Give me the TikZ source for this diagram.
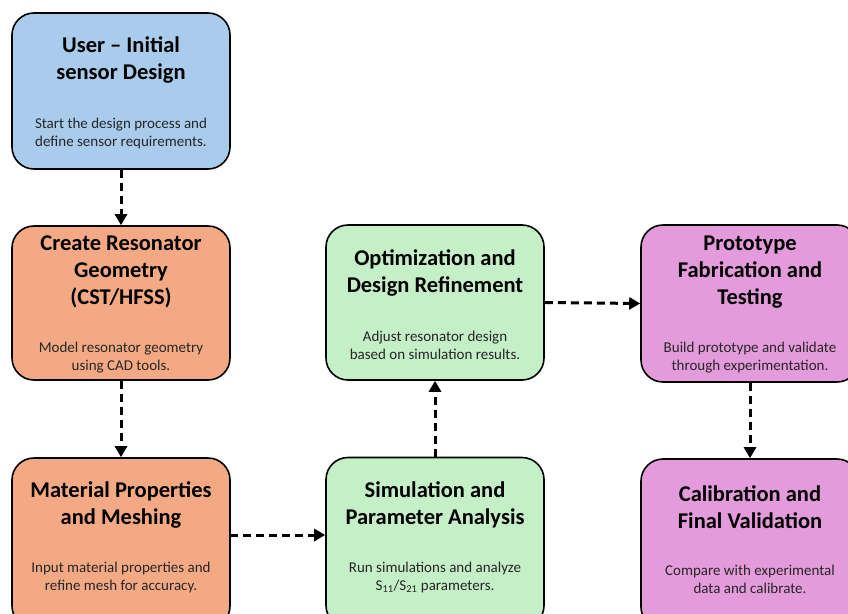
\documentclass[tikz,border=0pt]{standalone}
\usepackage{fontspec}
\setmainfont{Carlito}
\usetikzlibrary{arrows.meta}
\definecolor{cblue}{HTML}{A9CCEC}
\definecolor{corange}{HTML}{F3AA84}
\definecolor{cgreen}{HTML}{C4EFC7}
\definecolor{cpink}{HTML}{E39BDB}
\tikzset{
  flowbox/.style={draw=black, line width=1.6pt, rounded corners=22pt, minimum width=218pt, minimum height=155pt, inner sep=0pt},
  titletext/.style={font=\fontsize{22.5}{27}\selectfont\bfseries, align=center, text=black, inner sep=0pt},
  bodytext/.style={font=\fontsize{15}{18}\selectfont, align=center, text=black!85, inner sep=0pt},
  flowarrow/.style={line width=3pt, dash pattern=on 8pt off 5pt, -{Triangle[length=11pt,width=12pt]}}
}
\begin{document}
\begin{tikzpicture}[x=1pt,y=-1pt]
\path[use as bounding box, clip] (0,0) rectangle (848,613);
\fill[white] (0,0) rectangle (848,613);
% boxes
\node[flowbox, fill=cblue, minimum height=156pt] (b1) at (121,91) {};
\node[flowbox, fill=corange, minimum height=154pt] (b2) at (121,303) {};
\node[flowbox, fill=corange, minimum height=170pt] (b3) at (121,543) {};
\node[flowbox, fill=cgreen] (g1) at (435,302.5) {};
\node[flowbox, fill=cgreen, minimum height=170pt] (g2) at (435,542.5) {};
\node[flowbox, fill=cpink, minimum height=157pt] (p1) at (750,303.5) {};
\node[flowbox, fill=cpink, minimum height=170pt] (p2) at (750,544) {};
% titles
\node[titletext] (b1t) at (121,60) {User -- Initial\\sensor Design};
\node[titletext] (b2t) at (121,272) {Create Resonator\\Geometry\\(CST/HFSS)};
\node[titletext] (b3t) at (121,504.5) {Material Properties\\and Meshing};
\node[titletext] (g1t) at (435,272.5) {Optimization and\\Design Refinement};
\node[titletext] (g2t) at (435,504.5) {Simulation and\\Parameter Analysis};
\node[titletext] (p1t) at (750,272) {Prototype\\Fabrication and\\Testing};
\node[titletext] (p2t) at (750,507.5) {Calibration and\\Final Validation};
% bodies
\node[bodytext] (b1d) at (121,133) {Start the design process and\\define sensor requirements.};
\node[bodytext] (b2d) at (121,358) {Model resonator geometry\\using CAD tools.};
\node[bodytext] (b3d) at (121,577) {Input material properties and\\refine mesh for accuracy.};
\node[bodytext] (g1d) at (435,345) {Adjust resonator design\\based on simulation results.};
\node[bodytext] (g2d) at (435,577) {Run simulations and analyze\\S\textsubscript{11}/S\textsubscript{21} parameters.};
\node[bodytext] (p1d) at (750,358) {Build prototype and validate\\through experimentation.};
\node[bodytext] (p2d) at (750,579) {Compare with experimental\\data and calibrate.};
% arrows
\coordinate (m3) at (230,535);
\draw[flowarrow] (b1.south) -- (b2.north);
\draw[flowarrow] (b2.south) -- (b3.north);
\draw[flowarrow] (m3) -- (m3 -| g2.west);
\draw[flowarrow] (g2.north) -- (g1.south);
\draw[flowarrow] (g1.east) -- (p1.west);
\draw[flowarrow] (p1.south) -- (p2.north);
\end{tikzpicture}
\end{document}
